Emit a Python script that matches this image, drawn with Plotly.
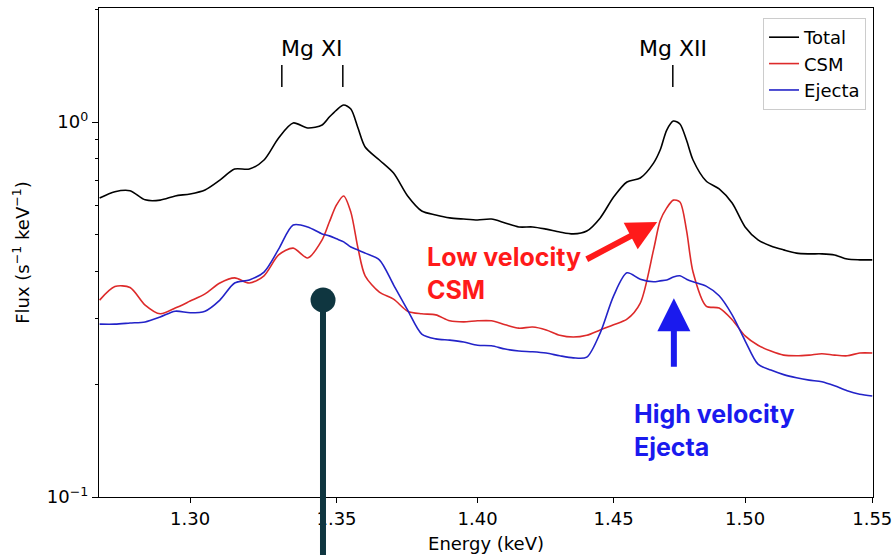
import math
import plotly.graph_objects as go

# ---------------- data ----------------
energy = [1.270, 1.275, 1.280, 1.285, 1.290, 1.295, 1.300, 1.305, 1.310, 1.315,
          1.320, 1.325, 1.330, 1.335, 1.340, 1.345, 1.3475, 1.350, 1.3525, 1.355,
          1.3575, 1.360, 1.365, 1.370, 1.375, 1.380, 1.385, 1.390, 1.395, 1.400,
          1.405, 1.410, 1.415, 1.420, 1.425, 1.430, 1.435, 1.440, 1.445, 1.450,
          1.455, 1.460, 1.465, 1.4675, 1.470, 1.4725, 1.475, 1.4775, 1.480, 1.485,
          1.490, 1.495, 1.500, 1.505, 1.510, 1.515, 1.520, 1.525, 1.530, 1.535,
          1.540, 1.545, 1.550]

total = [0.627, 0.652, 0.656, 0.620, 0.619, 0.635, 0.643, 0.659, 0.700, 0.749,
         0.749, 0.792, 0.907, 0.994, 0.964, 0.982, 1.031, 1.076, 1.110, 1.083,
         0.964, 0.858, 0.792, 0.731, 0.635, 0.579, 0.565, 0.555, 0.551, 0.548,
         0.551, 0.538, 0.525, 0.525, 0.518, 0.509, 0.503, 0.512, 0.555, 0.631,
         0.692, 0.709, 0.777, 0.842, 0.952, 1.006, 0.988, 0.895, 0.792, 0.696,
         0.663, 0.608, 0.525, 0.485, 0.467, 0.456, 0.447, 0.445, 0.445, 0.442,
         0.431, 0.429, 0.429]

csm = [0.335, 0.364, 0.362, 0.325, 0.308, 0.319, 0.333, 0.348, 0.372, 0.384,
       0.372, 0.389, 0.442, 0.461, 0.434, 0.485, 0.541, 0.601, 0.635, 0.575,
       0.461, 0.389, 0.352, 0.337, 0.313, 0.308, 0.306, 0.295, 0.293, 0.295,
       0.295, 0.288, 0.282, 0.284, 0.279, 0.270, 0.267, 0.270, 0.279, 0.288,
       0.298, 0.329, 0.456, 0.545, 0.590, 0.619, 0.612, 0.515, 0.398, 0.323,
       0.319, 0.297, 0.269, 0.254, 0.245, 0.239, 0.238, 0.239, 0.241, 0.239,
       0.238, 0.242, 0.242]

ejecta = [0.289, 0.289, 0.291, 0.293, 0.302, 0.313, 0.310, 0.313, 0.335, 0.372,
          0.379, 0.398, 0.458, 0.531, 0.525, 0.503, 0.497, 0.488, 0.479, 0.464,
          0.456, 0.447, 0.429, 0.368, 0.315, 0.272, 0.264, 0.262, 0.259, 0.254,
          0.253, 0.248, 0.245, 0.244, 0.242, 0.238, 0.235, 0.236, 0.274, 0.344,
          0.396, 0.381, 0.375, 0.377, 0.379, 0.386, 0.389, 0.381, 0.375, 0.365,
          0.344, 0.306, 0.261, 0.226, 0.218, 0.212, 0.208, 0.205, 0.203, 0.198,
          0.192, 0.188, 0.186]

xtick_vals = [1.30, 1.35, 1.40, 1.45, 1.50, 1.55]
xtick_text = ["1.30", "1.35", "1.40", "1.45", "1.50", "1.55"]
ytick_vals = [0.1, 1.0]
ytick_text = ["10<sup>\u22121</sup>", "10<sup>0</sup>"]
yminor_vals = [0.2, 0.3, 0.4, 0.5, 0.6, 0.7, 0.8, 0.9, 2.0]

# emission line labels and energies
mg11_lines = [1.3311, 1.3522]
mg12_lines = [1.4723]
line_labels = ["Mg XI", "Mg XII"]
line_label_pos = [1.3416, 1.4723]

# arrow annotation targets (energy, flux)
csm_arrow_target = (1.4664, 0.541)
ej_arrow_target = (1.4727, 0.339)

FONT = "DejaVu Sans"
ANN_FONT = "Inter"
CSM_COLOR = "#dd2a2a"
EJ_COLOR = "#2323c8"

fig = go.Figure()
fig.add_trace(go.Scatter(x=energy, y=total, mode="lines", name="Total",
                         line=dict(color="black", width=1.6, shape="spline", smoothing=0.8)))
fig.add_trace(go.Scatter(x=energy, y=csm, mode="lines", name="CSM",
                         line=dict(color=CSM_COLOR, width=1.6, shape="spline", smoothing=0.8)))
fig.add_trace(go.Scatter(x=energy, y=ejecta, mode="lines", name="Ejecta",
                         line=dict(color=EJ_COLOR, width=1.6, shape="spline", smoothing=0.8)))

# little vertical markers for line energies
tick_lo, tick_hi = 1.24, 1.42
mx, my = [], []
for e in mg11_lines + mg12_lines:
    mx += [e, e, None]
    my += [tick_lo, tick_hi, None]
fig.add_trace(go.Scatter(x=mx, y=my, mode="lines", showlegend=False, hoverinfo="skip",
                         line=dict(color="black", width=1.5)))

annotations = []
for lab, pos in zip(line_labels, line_label_pos):
    annotations.append(dict(text=lab, xref="x", x=math.log10(pos), yref="paper", y=0.918,
                            showarrow=False, xanchor="center", yanchor="middle",
                            font=dict(family=FONT, size=22, color="black")))

annotations.append(dict(text="<b>Low velocity<br>CSM</b>", xref="paper", x=0.4212, yref="paper", y=0.458,
                        showarrow=False, xanchor="left", yanchor="middle", align="left",
                        font=dict(family=ANN_FONT, size=25, color="#ff1a1a")))
annotations.append(dict(text="<b>High velocity<br>Ejecta</b>", xref="paper", x=0.6885, yref="paper", y=0.137,
                        showarrow=False, xanchor="left", yanchor="middle", align="left",
                        font=dict(family=ANN_FONT, size=25, color="#1a1aee")))

annotations.append(dict(text="", xref="x", yref="y",
                        x=math.log10(csm_arrow_target[0]), y=math.log10(csm_arrow_target[1]),
                        ax=-72, ay=38, showarrow=True, arrowhead=2, arrowsize=1, arrowwidth=6,
                        arrowcolor="#ff1a1a", standoff=0))
annotations.append(dict(text="", xref="x", yref="y",
                        x=math.log10(ej_arrow_target[0]), y=math.log10(ej_arrow_target[1]),
                        ax=0, ay=70, showarrow=True, arrowhead=2, arrowsize=1.1, arrowwidth=6,
                        arrowcolor="#1a1aee", standoff=0))

shapes = [
    dict(type="line", xref="paper", yref="paper", x0=0.2894, x1=0.2894, y0=-0.1186, y1=0.4029,
         line=dict(color="#0f3640", width=6), layer="above"),
    dict(type="circle", xref="paper", yref="paper", x0=0.2733, x1=0.3056, y0=0.3773, y1=0.4284,
         fillcolor="#0f3640", line=dict(width=0), layer="above"),
]

fig.update_layout(
    width=896, height=555,
    margin=dict(l=99, r=23, t=8, b=58),
    paper_bgcolor="white", plot_bgcolor="white",
    font=dict(family=FONT, size=18, color="black"),
    showlegend=True,
    legend=dict(x=0.991, y=0.9796, xanchor="right", yanchor="top",
                bgcolor="white", bordercolor="#cccccc", borderwidth=1,
                font=dict(family=FONT, size=18, color="black"), tracegroupgap=0),
    annotations=annotations,
    shapes=shapes,
)

fig.update_xaxes(type="log", range=[math.log10(1.2698), math.log10(1.5503)],
                 automargin=False,
                 tickmode="array", tickvals=xtick_vals, ticktext=xtick_text,
                 ticks="outside", ticklen=5, tickwidth=1.2, tickcolor="black",
                 showline=True, linecolor="black", linewidth=1.3, mirror=True,
                 showgrid=False, zeroline=False,
                 tickfont=dict(family=FONT, size=18, color="black"),
                 title=dict(text="Energy (keV)", font=dict(family=FONT, size=18), standoff=9))

fig.update_yaxes(type="log", range=[-1, 0.304],
                 automargin=False,
                 tickmode="array", tickvals=ytick_vals, ticktext=ytick_text,
                 ticks="outside", ticklen=6, tickwidth=1.2, tickcolor="black",
                 minor=dict(tickmode="array", tickvals=yminor_vals, ticks="outside",
                            ticklen=3, tickwidth=1, tickcolor="black", showgrid=False),
                 showline=True, linecolor="black", linewidth=1.3, mirror=True,
                 showgrid=False, zeroline=False,
                 tickfont=dict(family=FONT, size=18, color="black"),
                 title=dict(text="Flux (s<sup>\u22121</sup> keV<sup>\u22121</sup>)",
                            font=dict(family=FONT, size=18), standoff=12))

fig.write_html("out.html")
